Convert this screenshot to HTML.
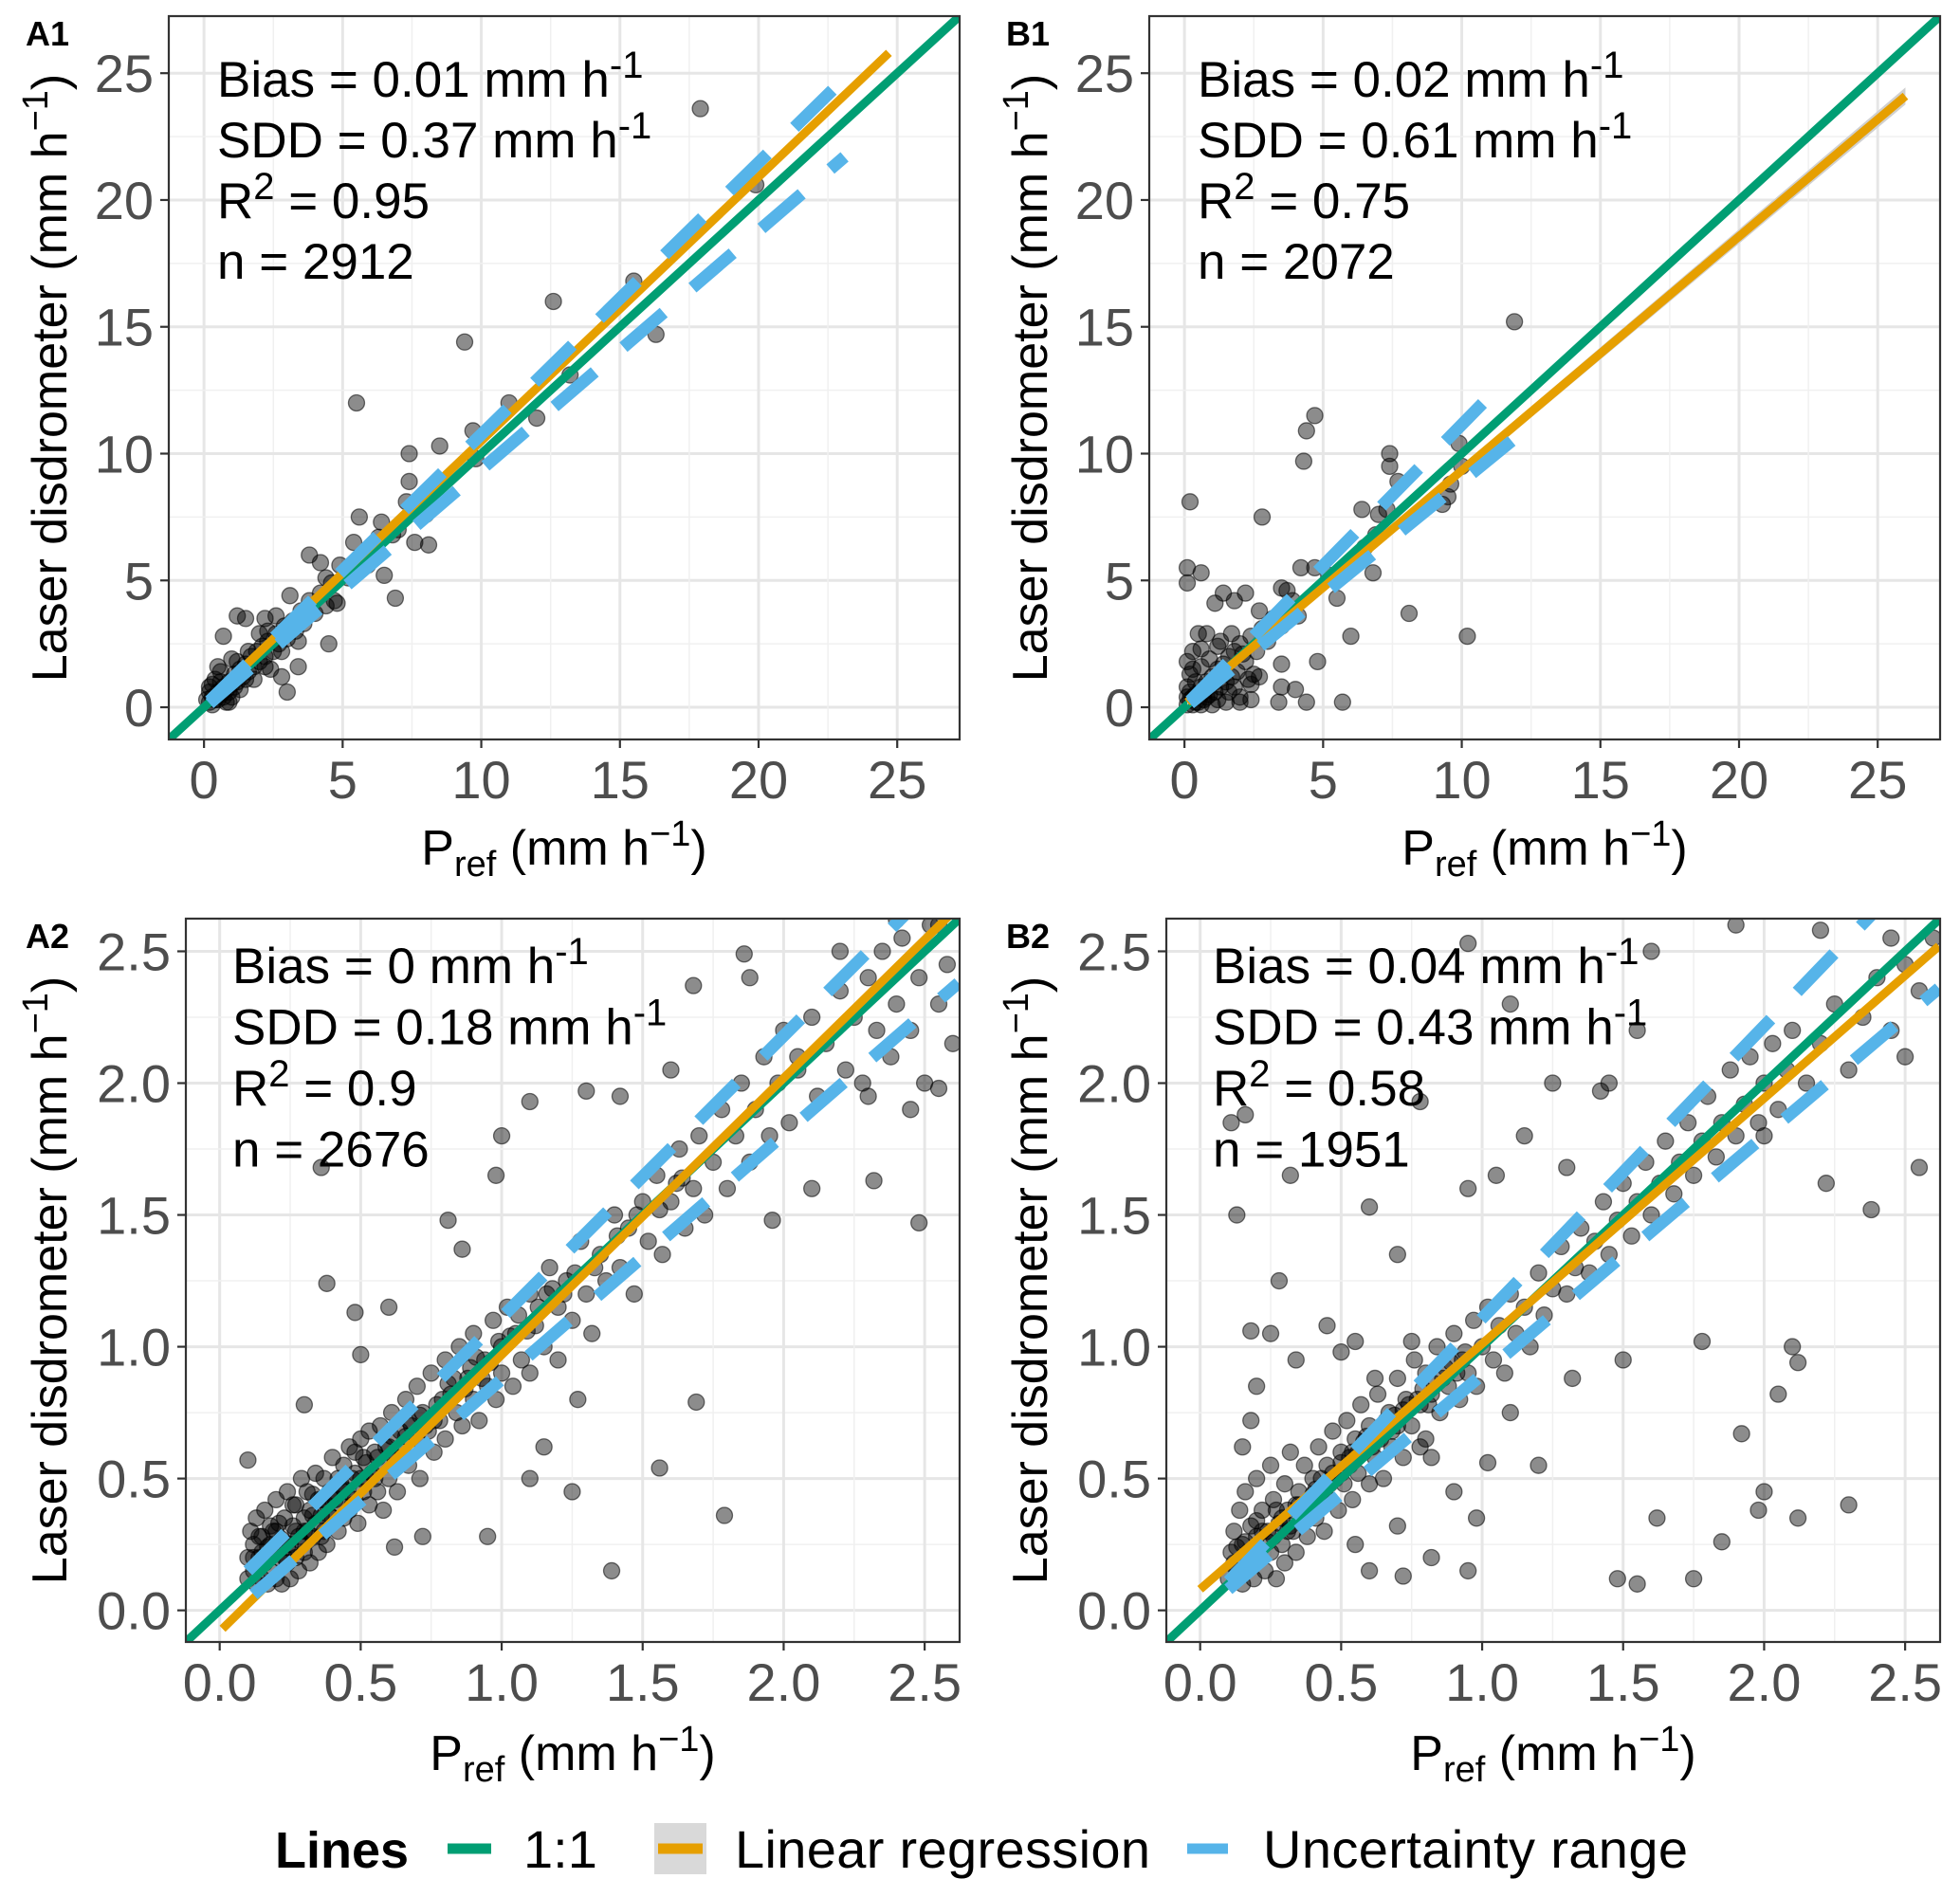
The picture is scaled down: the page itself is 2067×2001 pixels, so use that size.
<!DOCTYPE html>
<html><head><meta charset="utf-8"><style>
html,body{margin:0;padding:0;background:#fff}
svg{display:block;font-family:"Liberation Sans",Arial,sans-serif}
</style></head><body>
<svg id="chart" xmlns="http://www.w3.org/2000/svg" width="2067" height="2001" viewBox="0 0 2067 2001">
<rect width="2067" height="2001" fill="#fff"/>
<g id="legend">
  <text x="290" y="1970" font-size="54" font-weight="bold">Lines</text>
  <line x1="472" y1="1950" x2="518" y2="1950" stroke="#009E73" stroke-width="11"/>
  <text x="552" y="1970" font-size="56">1:1</text>
  <rect x="690" y="1923" width="55" height="54" fill="#d9d9d9"/>
  <line x1="694" y1="1950" x2="741" y2="1950" stroke="#E69F00" stroke-width="11"/>
  <text x="775" y="1970" font-size="56" textLength="438">Linear regression</text>
  <line x1="1252" y1="1950" x2="1295" y2="1950" stroke="#56B4E9" stroke-width="11"/>
  <text x="1332" y="1970" font-size="56" textLength="448">Uncertainty range</text>
</g>
</svg>
<script>
// ---------- data ----------
const bigTicks = [0, 5, 10, 15, 20, 25];
const bigTickLabels = ["0", "5", "10", "15", "20", "25"];
const smallTicks = [0, 0.5, 1.0, 1.5, 2.0, 2.5];
const smallTickLabels = ["0.0", "0.5", "1.0", "1.5", "2.0", "2.5"];

const statsA1 = ["0.01", "0.37", "0.95", "2912"];
const statsB1 = ["0.02", "0.61", "0.75", "2072"];
const statsA2 = ["0", "0.18", "0.9", "2676"];
const statsB2 = ["0.04", "0.43", "0.58", "1951"];

// regression [x0, y0, x1, y1]
const regA1 = [0.2, 0.3, 24.7, 25.8];
const regB1 = [0.1, 0.2, 26.0, 24.1];
const regA2 = [0.01, -0.07, 2.62, 2.67];
const regB2 = [0.0, 0.08, 2.62, 2.52];
// uncertainty upper / lower [x0,y0,x1,y1]
const upA1 = [0.2, 0.25, 23.1, 24.8];
const loA1 = [0.2, 0.15, 23.1, 21.7];
const upB1 = [0.2, 0.25, 11.4, 12.7];
const loB1 = [0.2, 0.15, 11.8, 10.5];
const upA2 = [0.1, 0.15, 2.45, 2.66];
const loA2 = [0.12, 0.06, 2.62, 2.38];
const upB2 = [0.1, 0.11, 2.4, 2.66];
const loB2 = [0.1, 0.08, 2.62, 2.36];

const ptsA1 = [[0.2,0.2],[0.3,0.4],[0.4,0.3],[0.5,0.6],[0.6,0.5],[0.7,0.8],[0.8,0.7],[0.9,1.0],[1.0,0.9],[1.1,1.3],[1.2,1.0],[1.3,1.5],[1.4,1.2],[1.5,1.7],[1.6,1.4],[1.7,2.0],[1.8,1.6],[1.9,2.2],[2.0,1.8],[2.1,2.4],[2.2,2.0],[2.3,2.6],[2.5,2.2],[2.6,2.9],[2.7,2.5],[2.9,3.2],[3.0,2.7],[3.2,3.4],[3.3,3.0],[3.5,3.8],[3.6,3.3],[3.8,4.2],[4.0,3.7],[4.2,4.5],[4.4,4.0],[4.6,4.9],[4.7,4.2],[0.3,0.9],[0.6,1.4],[1.0,1.9],[0.8,0.2],[1.3,0.7],[1.8,1.1],[2.4,1.5],[0.5,1.6],[0.2,0.6],[1.0,0.4],[0.4,1.1],[2.0,2.9],[2.6,3.6],[5.9,5.6],[6.3,6.7],[7.0,7.0],[0.3,0.1],[0.5,0.3],[0.7,0.4],[0.9,0.6],[1.1,0.8],[1.5,1.1],[2.2,1.6],[2.8,2.2],[3.4,2.6],[0.1,0.3],[0.2,0.8],[0.6,1.0],[1.2,1.8],[1.6,2.2],[2.3,3.0],
[5.5,12.0],[9.4,14.4],[12.6,16.0],[17.9,23.6],[16.3,14.7],[15.5,16.8],[13.2,13.1],[11.0,12.0],[9.7,10.9],[8.5,10.3],[7.4,10.0],[7.4,8.9],[7.3,8.1],[8.1,6.4],[6.9,4.3],[5.6,7.5],[4.5,2.5],[1.2,3.6],[0.7,2.8],[3.0,0.6],[3.4,1.6],[6.4,7.3],[6.5,5.2],[5.4,6.5],[3.8,6.0],[4.2,5.7],[4.8,4.1],[3.1,4.4],[2.2,3.5],[1.5,3.5],[0.9,0.2],[2.8,1.2],[19.9,20.6],[12.0,11.4],[9.8,9.8],[7.8,8.1],[6.1,6.0],[5.2,5.1],[4.4,5.1],[4.9,5.6],[6.8,6.8],[7.6,6.5],[8.0,7.6]];

const ptsB1 = [[0.1,0.1],[0.2,0.3],[0.3,0.1],[0.4,0.5],[0.5,0.2],[0.6,0.8],[0.7,0.3],[0.8,1.0],[0.9,0.5],[1.0,1.2],[1.1,0.6],[1.2,1.5],[1.3,0.8],[1.4,1.7],[1.5,1.0],[1.6,2.0],[1.7,1.2],[1.8,2.2],[1.9,1.4],[2.0,2.5],[2.2,1.8],[2.4,2.8],[2.6,2.2],[2.8,3.1],[3.0,2.6],[3.2,3.5],[3.5,3.2],[0.1,0.8],[0.2,1.3],[0.1,1.8],[0.3,2.2],[0.5,2.9],[0.8,2.9],[0.2,0.6],[0.4,1.0],[0.6,1.6],[0.9,1.9],[1.2,2.4],[1.0,0.1],[1.5,0.2],[2.0,0.4],[2.4,0.3],[0.6,0.1],[1.8,0.8],[2.3,1.1],[2.7,1.2],[1.3,2.6],[1.7,2.9],[0.3,0.4],[0.7,0.6],[1.1,1.0],[1.4,1.3],[0.1,0.4],[0.4,0.2],[0.8,0.4],[1.2,0.3],[1.6,0.6],[0.3,1.5],[0.6,2.3],[2.1,2.1],
[0.2,8.1],[4.7,11.5],[4.4,10.9],[4.3,9.7],[2.8,7.5],[9.9,10.4],[11.9,15.2],[7.4,10.0],[7.4,9.5],[10.2,2.8],[8.1,3.7],[5.7,0.2],[3.4,0.2],[3.5,1.7],[4.8,1.8],[6.0,2.8],[4.2,5.5],[4.7,5.5],[6.5,6.3],[6.4,7.8],[7.0,7.6],[7.3,7.8],[9.6,8.8],[9.3,8.0],[0.1,5.5],[0.6,5.3],[0.1,4.9],[1.4,4.5],[2.2,4.5],[3.5,4.7],[2.5,1.3],[2.9,3.1],[4.1,3.6],[3.7,4.6],[1.1,4.1],[1.8,4.2],[3.5,0.8],[4.0,0.7],[4.4,0.2],[2.0,0.2],[2.4,0.9],[5.5,4.3],[6.9,6.8],[5.2,5.2],[7.7,8.9],[6.8,5.3],[10.0,9.5],[9.5,8.3],[2.7,3.8],[3.9,4.2]];

const ptsA2 = [[0.1,0.12],[0.1,0.2],[0.11,0.3],[0.12,0.15],[0.12,0.25],[0.13,0.1],[0.13,0.35],[0.14,0.2],[0.15,0.12],[0.15,0.28],[0.16,0.18],[0.16,0.38],[0.17,0.1],[0.17,0.24],[0.18,0.32],[0.18,0.15],[0.19,0.22],[0.2,0.12],[0.2,0.3],[0.2,0.42],[0.21,0.2],[0.22,0.27],[0.22,0.1],[0.23,0.35],[0.24,0.18],[0.24,0.45],[0.25,0.25],[0.25,0.12],[0.26,0.32],[0.27,0.2],[0.27,0.4],[0.28,0.28],[0.28,0.15],[0.29,0.5],[0.3,0.22],[0.3,0.35],[0.31,0.3],[0.31,0.45],[0.32,0.18],[0.32,0.38],[0.33,0.28],[0.34,0.52],[0.34,0.33],[0.35,0.22],[0.35,0.42],[0.36,0.36],[0.37,0.3],[0.37,0.5],[0.38,0.4],[0.38,0.25],[0.39,0.45],[0.4,0.35],[0.4,0.58],[0.41,0.42],[0.42,0.3],[0.42,0.5],[0.43,0.4],[0.44,0.55],[0.44,0.35],[0.45,0.45],[0.46,0.62],[0.46,0.38],[0.47,0.5],[0.48,0.42],[0.48,0.6],[0.49,0.33],[0.5,0.5],[0.5,0.65],[0.51,0.45],[0.52,0.56],[0.53,0.4],[0.53,0.68],[0.54,0.52],[0.55,0.6],[0.56,0.45],[0.57,0.7],[0.58,0.55],[0.58,0.38],[0.6,0.62],[0.6,0.5],[0.61,0.75],[0.62,0.58],[0.63,0.45],[0.64,0.68],[0.65,0.6],[0.66,0.8],[0.67,0.55],[0.68,0.7],[0.7,0.65],[0.7,0.85],[0.71,0.5],[0.72,0.75],[0.74,0.68],[0.75,0.9],[0.76,0.6],[0.77,0.78],[0.78,0.72],[0.8,0.95],[0.8,0.65],[0.82,0.82],[0.84,0.75],[0.85,1.0],[0.86,0.7],[0.88,0.88],[0.9,0.8],[0.9,1.05],[0.92,0.72],[0.94,0.95],[0.95,0.85],[0.97,1.1],[0.98,0.8],[1.0,1.0],[1.0,0.9],[1.02,1.15],[1.04,0.85],[1.05,1.05],[1.07,0.95],[1.1,1.2],[1.1,0.9],[1.12,1.08],[1.15,1.0],[1.17,1.3],[1.2,1.15],[1.2,0.95],[1.23,1.25],[1.25,1.1],[1.28,1.4],[1.3,1.2],[1.32,1.05],[1.35,1.35],[1.37,1.25],[1.4,1.5],[1.42,1.3],[1.45,1.45],[1.47,1.2],[1.5,1.55],[1.52,1.4],[1.55,1.65],[1.57,1.35],[1.6,1.55],[1.63,1.75],[1.65,1.45],[1.68,1.6],[1.7,1.8],[1.72,1.5],[1.75,1.7],[1.78,1.9],[1.8,1.6],[1.83,1.8],[1.85,2.0],[1.88,1.7],[1.9,1.9],[1.93,2.1],[1.95,1.8],[1.98,2.0],[2.0,2.2],[2.02,1.85],[2.05,2.05],[2.1,2.25],[2.12,1.95],[2.15,2.15],[2.2,2.35],[2.22,2.05],[2.25,2.25],[2.28,2.0],[2.3,2.4],[2.33,2.2],[2.35,2.5],[2.38,2.1],[2.4,2.3],[2.42,2.55],[2.45,2.2],[2.48,2.4],[2.5,2.0],[2.52,2.6],[2.55,2.3],[2.58,2.45],[2.6,2.15],[2.45,1.9],[2.3,1.95],[2.2,2.5],
[0.15,0.22],[0.19,0.3],[0.23,0.2],[0.26,0.4],[0.29,0.26],[0.33,0.44],[0.36,0.28],[0.39,0.36],[0.43,0.48],[0.47,0.4],[0.51,0.58],[0.55,0.5],[0.59,0.62],[0.63,0.58],[0.67,0.72],[0.73,0.7],[0.79,0.8],[0.83,0.88],[0.89,0.92],[0.93,0.88],[0.99,1.02],[1.06,1.12],[1.13,1.15],[1.18,1.22],[1.26,1.28],[1.33,1.3],[1.41,1.42],[1.48,1.5],[1.56,1.52],[1.62,1.62],
[0.12,0.2],[0.14,0.28],[0.18,0.25],[0.21,0.33],[0.24,0.24],[0.27,0.3],[0.3,0.3],[0.33,0.36],[0.36,0.42],[0.4,0.42],[0.44,0.46],[0.48,0.52],[0.52,0.5],[0.56,0.58],[0.61,0.66],[0.66,0.66],[0.71,0.74],[0.76,0.72],[0.81,0.86],[0.87,0.84],[0.91,0.96],[0.96,0.94],[1.03,1.04],[1.09,1.06],[1.16,1.2],[1.22,1.2],
[1.86,2.49],[2.55,2.6],[2.32,1.63],[1.79,0.36],[1.39,0.15],[1.56,0.54],[1.69,0.79],[0.38,1.24],[0.36,1.68],[0.81,1.48],[1.1,1.93],[1.3,1.97],[1.0,1.8],[0.98,1.65],[0.48,1.13],[0.86,1.37],[1.64,1.64],[2.48,1.47],[2.55,1.98],[1.88,2.4],[1.68,2.37],[0.1,0.57],[0.3,0.78],[0.5,0.97],[0.6,1.15],[1.25,0.45],[1.1,0.5],[0.95,0.28],[0.62,0.24],[0.72,0.28],[1.27,0.8],[1.15,0.62],[1.42,1.95],[1.96,1.48],[2.1,1.6],[2.4,2.62],[2.05,2.1],[1.6,2.05]];

const ptsB2 = [[0.1,0.12],[0.11,0.22],[0.12,0.3],[0.13,0.15],[0.14,0.38],[0.15,0.1],[0.15,0.25],[0.16,0.45],[0.17,0.18],[0.18,0.32],[0.19,0.12],[0.2,0.28],[0.2,0.5],[0.21,0.2],[0.22,0.38],[0.23,0.15],[0.24,0.3],[0.25,0.55],[0.25,0.22],[0.26,0.42],[0.27,0.12],[0.28,0.33],[0.29,0.25],[0.3,0.48],[0.3,0.18],[0.31,0.38],[0.32,0.6],[0.33,0.3],[0.34,0.22],[0.35,0.45],[0.36,0.35],[0.37,0.55],[0.38,0.28],[0.39,0.42],[0.4,0.5],[0.41,0.35],[0.42,0.62],[0.43,0.45],[0.44,0.3],[0.45,0.55],[0.46,0.42],[0.47,0.68],[0.48,0.5],[0.49,0.38],[0.5,0.6],[0.51,0.48],[0.52,0.72],[0.53,0.55],[0.54,0.42],[0.55,0.65],[0.56,0.52],[0.57,0.78],[0.58,0.6],[0.6,0.48],[0.6,0.7],[0.62,0.58],[0.63,0.82],[0.64,0.65],[0.65,0.5],[0.67,0.75],[0.68,0.62],[0.7,0.88],[0.7,0.7],[0.72,0.58],[0.73,0.8],[0.75,0.7],[0.76,0.95],[0.78,0.78],[0.8,0.65],[0.8,0.9],[0.82,0.82],[0.84,1.0],[0.85,0.75],[0.87,0.92],[0.88,0.85],[0.9,1.05],[0.92,0.8],[0.93,0.95],[0.95,0.9],[0.97,1.1],[0.98,0.85],[1.0,1.0],[1.02,1.15],[1.04,0.95],[1.06,1.08],[1.08,0.9],[1.1,1.2],[1.12,1.05],[1.15,1.15],[1.17,1.0],[1.2,1.28],[1.22,1.12],[1.25,1.22],[1.28,1.38],[1.3,1.2],[1.33,1.3],[1.35,1.45],[1.38,1.28],[1.4,1.4],[1.43,1.55],[1.45,1.35],[1.48,1.48],[1.5,1.62],[1.53,1.42],[1.55,1.55],[1.58,1.7],[1.6,1.5],[1.63,1.62],[1.65,1.78],[1.68,1.58],[1.7,1.7],[1.73,1.85],[1.75,1.65],[1.78,1.78],[1.8,1.95],[1.83,1.72],[1.85,1.85],[1.88,2.05],[1.9,1.8],[1.93,1.92],[1.95,2.1],[1.98,1.85],[2.0,2.0],[2.03,2.15],[2.05,1.9],[2.08,2.05],[2.1,2.2],[2.15,2.0],[2.2,2.15],[2.25,2.3],[2.3,2.05],[2.35,2.25],[2.4,2.4],[2.45,2.2],[2.5,2.45],[2.55,2.35],[2.6,2.55],
[0.12,0.18],[0.16,0.26],[0.19,0.2],[0.22,0.3],[0.26,0.28],[0.29,0.35],[0.32,0.32],[0.35,0.4],[0.38,0.38],[0.41,0.46],[0.44,0.44],[0.47,0.52],[0.5,0.52],[0.53,0.58],[0.56,0.6],[0.59,0.66],[0.62,0.66],[0.66,0.72],[0.69,0.74],[0.74,0.78],[0.79,0.84],[0.83,0.86],[0.89,0.94],[0.94,0.98],
[0.13,0.24],[0.17,0.22],[0.2,0.34],[0.24,0.26],[0.27,0.38],[0.31,0.3],[0.34,0.4],[0.37,0.36],[0.4,0.44],[0.43,0.5],[0.46,0.48],[0.5,0.56],[0.54,0.6],[0.58,0.64],[0.61,0.62],[0.65,0.7],[0.68,0.68],[0.72,0.76],[0.77,0.8],[0.81,0.78],[0.86,0.88],[0.91,0.9],
[0.15,0.62],[0.18,0.72],[0.2,0.85],[0.25,1.05],[0.28,1.25],[0.32,1.65],[0.13,1.5],[0.18,1.06],[0.11,1.85],[0.16,1.88],[0.34,0.95],[0.45,1.08],[0.55,1.02],[0.6,1.53],[0.7,1.35],[0.78,1.93],[0.95,2.53],[1.1,2.3],[1.25,2.0],[1.45,2.0],[1.6,2.5],[1.9,2.6],[2.2,2.58],[2.45,2.55],[1.05,1.65],[0.95,1.6],[1.15,1.8],[1.3,1.68],[1.42,1.97],[1.55,2.2],[2.38,1.52],[2.22,1.62],[2.0,1.8],[2.55,1.68],[2.5,2.1],[2.1,1.0],[1.78,1.02],[2.12,0.94],[1.5,0.95],[1.32,0.88],[1.1,0.75],[1.2,0.55],[1.02,0.56],[0.82,0.58],[0.9,0.45],[0.98,0.35],[1.62,0.35],[1.85,0.26],[1.75,0.12],[1.55,0.1],[1.48,0.12],[1.98,0.38],[2.0,0.45],[2.3,0.4],[2.12,0.35],[1.92,0.67],[2.05,0.82],[0.6,0.15],[0.72,0.13],[0.82,0.2],[0.95,0.15],[0.78,0.62],[0.7,0.32],[0.55,0.25],[0.62,0.88],[0.75,1.02],[0.5,0.98]];

// ---------- drawing ----------
const NS = "http://www.w3.org/2000/svg";
const svg = document.getElementById("chart");
function mk(tag, attrs, parent){
  const e = document.createElementNS(NS, tag);
  for (const k in attrs) e.setAttribute(k, attrs[k]);
  (parent || svg).appendChild(e);
  return e;
}

function panel(cfg){
  const g = mk("g", {});
  
  
  const L = cfg.left, R = cfg.right, T = cfg.top, B = cfg.bottom;
  const xs = v => L + (v - cfg.min) / (cfg.max - cfg.min) * (R - L);
  const ys = v => B - (v - cfg.min) / (cfg.max - cfg.min) * (B - T);
  const clip = "clip" + cfg.id;
  const cp = mk("clipPath", {id: clip}, g);
  mk("rect", {x: L, y: T, width: R - L, height: B - T}, cp);

  const grid = mk("g", {}, g);
  
  
  const step = cfg.ticks[1] - cfg.ticks[0];
  cfg.ticks.forEach((t, i) => {
    const m = t - step / 2;
    if (m > cfg.min) {
      mk("line", {x1: xs(m), x2: xs(m), y1: T, y2: B, stroke: "#f0f0f0", "stroke-width": 1.5}, grid);
      mk("line", {x1: L, x2: R, y1: ys(m), y2: ys(m), stroke: "#f0f0f0", "stroke-width": 1.5}, grid);
    }
    mk("line", {x1: xs(t), x2: xs(t), y1: T, y2: B, stroke: "#e6e6e6", "stroke-width": 3}, grid);
    mk("line", {x1: L, x2: R, y1: ys(t), y2: ys(t), stroke: "#e6e6e6", "stroke-width": 3}, grid);
  });
  const lastM = cfg.ticks[cfg.ticks.length - 1] + step / 2;
  if (lastM < cfg.max) {
    mk("line", {x1: xs(lastM), x2: xs(lastM), y1: T, y2: B, stroke: "#f0f0f0", "stroke-width": 1.5}, grid);
    mk("line", {x1: L, x2: R, y1: ys(lastM), y2: ys(lastM), stroke: "#f0f0f0", "stroke-width": 1.5}, grid);
  }

  const plot = mk("g", {"clip-path": "url(#" + clip + ")"}, g);
  const pg = mk("g", {}, plot);
  
  
  cfg.pts.forEach(p => {
    const c = mk("circle", {cx: xs(p[0]), cy: ys(p[1]), r: 8.5, fill: "rgba(0,0,0,0.45)", stroke: "rgba(0,0,0,0.55)", "stroke-width": 1.3}, pg);
    
    
  });
  const one = mk("line", {x1: xs(cfg.min), y1: ys(cfg.min), x2: xs(cfg.max), y2: ys(cfg.max), stroke: "#009E73", "stroke-width": 9}, plot);
  
  
  const r = cfg.reg;
  if (cfg.band) {
    const bw = cfg.band;
    const band = mk("polygon", {points: [xs(r[0]) + "," + (ys(r[1]) - 3), xs(r[2]) + "," + (ys(r[3]) - bw), xs(r[2]) + "," + (ys(r[3]) + bw), xs(r[0]) + "," + (ys(r[1]) + 3)].join(" "), fill: "#d0d0d0"}, plot);
    
    
  }
  const reg = mk("line", {x1: xs(r[0]), y1: ys(r[1]), x2: xs(r[2]), y2: ys(r[3]), stroke: "#E69F00", "stroke-width": 9}, plot);
  
  
  [cfg.up, cfg.lo].forEach((u, i) => {
    const l = mk("line", {x1: xs(u[0]), y1: ys(u[1]), x2: xs(u[2]), y2: ys(u[3]), stroke: "#56B4E9", "stroke-width": 13, "stroke-dasharray": "56 40"}, plot);
    
    
  });

  const border = mk("rect", {x: L, y: T, width: R - L, height: B - T, fill: "none", stroke: "#333", "stroke-width": 2.2}, g);
  
  

  cfg.ticks.forEach((t, i) => {
    mk("line", {x1: xs(t), x2: xs(t), y1: B, y2: B + 9, stroke: "#333", "stroke-width": 2.2}, g);
    mk("line", {x1: L - 9, x2: L, y1: ys(t), y2: ys(t), stroke: "#333", "stroke-width": 2.2}, g);
    const xl = mk("text", {x: xs(t), y: cfg.xTickY, "text-anchor": "middle", "font-size": 56, fill: "#4d4d4d"}, g);
    xl.textContent = cfg.labels[i];
    
    
    const yl = mk("text", {x: L - 16, y: ys(t) + 20, "text-anchor": "end", "font-size": 56, fill: "#4d4d4d"}, g);
    yl.textContent = cfg.labels[i];
    
    
  });

  const xt = mk("text", {x: (L + R) / 2, y: cfg.xTitleY, "text-anchor": "middle", "font-size": 52}, g);
  xt.innerHTML = 'P<tspan font-size="38" dy="12">ref</tspan><tspan dy="-12"> (mm h</tspan><tspan font-size="38" dy="-20">−1</tspan><tspan dy="20">)</tspan>';
  
  
  const cy = (T + B) / 2;
  const yt = mk("text", {x: 0, y: 0, "text-anchor": "middle", "font-size": 52, transform: "translate(" + (cfg.yTitleX) + "," + cy + ") rotate(-90)"}, g);
  yt.innerHTML = 'Laser disdrometer  (mm h<tspan font-size="38" dy="-20">−1</tspan><tspan dy="20">)</tspan>';
  
  

  const pl = mk("text", {x: cfg.labelX, y: cfg.labelY, "font-size": 36, "font-weight": "bold"}, g);
  pl.textContent = cfg.id;
  
  

  const s = cfg.stats;
  const lines = [
    'Bias = ' + s[0] + ' mm h<tspan font-size="40" dy="-20">-1</tspan>',
    'SDD = ' + s[1] + ' mm h<tspan font-size="40" dy="-20">-1</tspan>',
    'R<tspan font-size="40" dy="-20">2</tspan><tspan dy="20"> = ' + s[2] + '</tspan>',
    'n = ' + s[3]
  ];
  const names = ['bias-annotation', 'sdd-annotation', 'r2-annotation', 'n-annotation'];
  lines.forEach((h, i) => {
    const t = mk("text", {x: cfg.annX, y: cfg.annY + i * cfg.annGap, "font-size": 53}, g);
    t.innerHTML = h;
    
    
  });
}

const topRow = {top: 17, bottom: 780, min: -1.27, max: 27.25, ticks: bigTicks, labels: bigTickLabels, xTickY: 842, xTitleY: 912, labelY: 48, annY: 102, annGap: 64};
const botRow = {top: 969, bottom: 1732, min: -0.12, max: 2.624, ticks: smallTicks, labels: smallTickLabels, xTickY: 1794, xTitleY: 1867, labelY: 1000, annY: 1037, annGap: 64.5};

panel(Object.assign({}, topRow, {id: "A1", left: 178, right: 1012, yTitleX: 70, labelX: 27, annX: 229, pts: ptsA1, reg: regA1, up: upA1, lo: loA1, stats: statsA1}));
panel(Object.assign({}, topRow, {id: "B1", left: 1212, right: 2046, yTitleX: 1104, labelX: 1061, annX: 1263, pts: ptsB1, reg: regB1, up: upB1, lo: loB1, stats: statsB1, band: 9}));
panel(Object.assign({}, botRow, {id: "A2", left: 196, right: 1012, yTitleX: 70, labelX: 27, annX: 245, pts: ptsA2, reg: regA2, up: upA2, lo: loA2, stats: statsA2}));
panel(Object.assign({}, botRow, {id: "B2", left: 1230, right: 2046, yTitleX: 1104, labelX: 1061, annX: 1279, pts: ptsB2, reg: regB2, up: upB2, lo: loB2, stats: statsB2}));
</script>
</body></html>
